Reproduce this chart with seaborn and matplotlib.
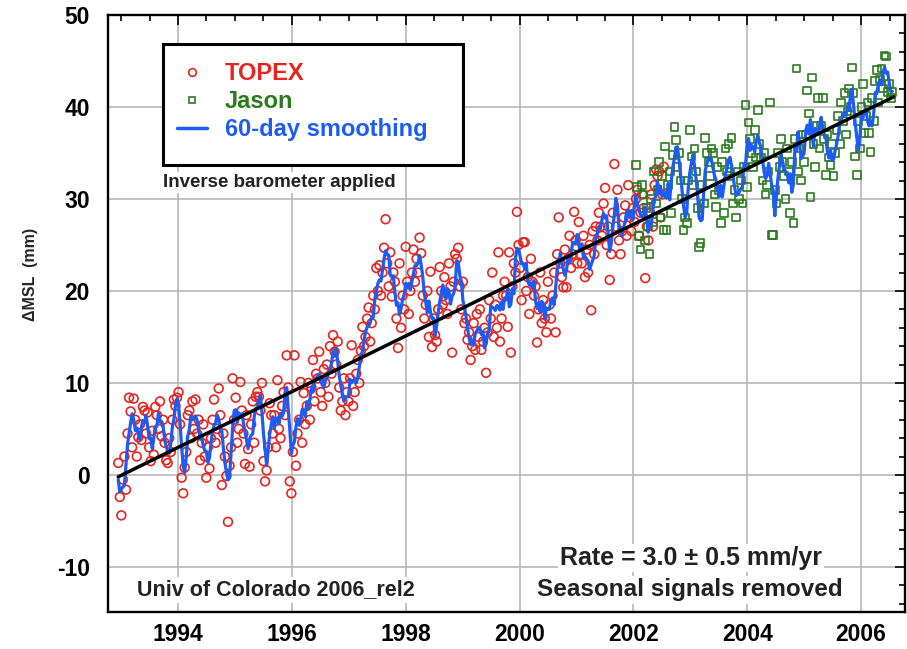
import numpy as np
import pandas as pd
import matplotlib
matplotlib.use("Agg")
import matplotlib.pyplot as plt
import seaborn as sns
from matplotlib.lines import Line2D
from matplotlib.patches import Rectangle
from matplotlib.ticker import MultipleLocator

# ---------------- data ----------------
topex_start = 1992.95          # first TOPEX cycle (year)
jason_start = 2002.04          # first Jason cycle (year)
cycle_days = 9.9156            # repeat cycle of the altimeters

topex_mm = [
    1.3, -2.4, -4.4, -0.5, 2.0, -1.6, 4.5, 8.4, 6.9, 3.0,
    8.3, 6.0, 2.0, 4.1, 5.5, 3.8, 7.4, 7.0, 4.5, 6.8,
    3.0, 1.5, 4.8, 2.2, 7.4, 6.5, 5.0, 8.0, 4.2, 6.0,
    3.5, 1.6, 1.3, 4.0, 2.5, 6.0, 8.2, 7.5, 8.4, 9.0,
    5.5, -0.3, -2.0, 0.8, 2.5, 6.5, 7.0, 4.0, 8.0, 5.0,
    8.2, 4.5, 6.0, 1.6, 3.5, 5.5, 2.0, -0.3, 3.0, 0.7,
    4.0, 6.0, 8.2, 3.5, 5.0, 9.4, 6.5, -1.1, 4.5, 2.0,
    -0.1, -5.1, 1.0, 3.0, 10.5, 6.0, 8.4, 3.5, 5.0, 10.1,
    7.0, 4.5, 1.2, 6.5, 2.8, 0.9, 5.5, 8.0, 3.5, 8.5,
    9.0, 8.5, 7.0, 10.0, 1.5, -0.7, 0.5, 3.0, 7.8, 6.5,
    4.5, 6.5, 3.0, 10.3, 5.0, 4.0, 7.5, 9.0, 6.5, 13.0,
    9.5, -0.7, -2.0, 2.5, 13.0, 1.0, 4.5, 6.0, 10.1, 3.5,
    8.9, 5.5, 7.5, 10.0, 6.0, 9.5, 12.5, 8.0, 11.0, 10.5,
    13.4, 9.0, 7.5, 11.5, 10.0, 12.0, 8.5, 14.0, 11.0, 15.2,
    13.4, 12.0, 14.5, 9.5, 7.0, 8.0, 10.5, 6.5, 9.0, 8.0,
    10.5, 14.1, 7.5, 9.0, 11.0, 12.5, 10.0, 13.5, 16.1, 14.0,
    15.0, 17.0, 18.2, 14.5, 16.5, 19.5, 18.0, 22.5, 20.0, 22.8,
    19.5, 22.0, 24.7, 27.8, 23.0, 20.5, 24.2, 19.4, 22.0, 21.0,
    17.0, 13.8, 23.0, 16.0, 19.5, 18.0, 24.8, 21.0, 17.5, 20.0,
    22.0, 24.5, 21.0, 23.5, 22.0, 25.8, 24.1, 19.5, 17.0, 18.5,
    20.0, 15.0, 22.1, 13.9, 17.0, 15.2, 14.5, 18.0, 22.6, 20.0,
    18.5, 21.5, 19.0, 17.5, 23.0, 20.5, 13.3, 21.0, 24.0, 23.5,
    24.7, 20.5, 18.0, 21.0, 16.5, 17.0, 14.7, 15.5, 12.5, 14.0,
    16.5, 13.6, 17.5, 15.0, 18.0, 13.6, 14.5, 16.0, 11.1, 15.5,
    19.0, 17.0, 22.0, 15.0, 18.5, 16.0, 24.2, 14.5, 17.0, 19.5,
    21.0, 19.5, 16.1, 24.2, 13.3, 20.5, 23.0, 22.0, 28.6, 25.0,
    22.5, 19.0, 25.3, 25.3, 20.0, 21.5, 17.5, 23.5, 21.0, 19.5,
    20.5, 14.4, 18.0, 22.0, 16.5, 19.0, 17.0, 15.5, 21.0, 18.5,
    17.0, 19.5, 22.0, 15.5, 24.0, 28.0, 23.0, 21.5, 20.4, 24.5,
    20.4, 23.5, 26.0, 22.5, 24.0, 28.6, 25.5, 23.0, 27.5, 24.0,
    23.0, 26.0, 21.5, 24.5, 22.0, 25.0, 17.9, 26.5, 24.0, 27.0,
    25.5, 28.5, 27.0, 26.0, 29.5, 31.2, 25.0, 27.0, 21.2, 24.0,
    28.5, 33.8, 27.0, 31.0, 25.5, 24.0, 26.5, 28.0, 29.3, 26.0,
    31.5, 28.0, 26.5, 29.0, 27.5, 30.0, 31.0, 26.0, 28.5, 30.5,
    29.0, 21.4, 27.0, 25.5, 28.5, 30.5, 27.0, 31.5, 33.2, 32.5,
    33.0, 28.0, 30.5, 33.5,
]

jason_mm = [
    33.7, 31.3, 26.0, 24.5, 31.5, 30.5, 25.5, 29.0, 27.0, 24.0,
    30.0, 27.5, 33.0, 29.5, 31.0, 34.0, 28.0, 32.5, 26.6, 35.7,
    26.6, 31.5, 33.0, 28.5, 34.8, 37.8, 36.4, 33.5, 35.0, 32.0,
    30.0, 26.6, 28.0, 27.4, 32.0, 37.5, 34.6, 31.5, 35.5, 33.0,
    29.0, 24.8, 25.2, 31.5, 29.5, 36.6, 35.0, 34.0, 32.5, 35.5,
    35.0, 30.5, 29.1, 33.5, 31.0, 27.4, 34.0, 28.5, 35.5, 33.0,
    36.0, 32.5, 36.6, 29.5, 31.0, 28.0, 33.0, 30.0, 32.0, 29.5,
    33.5, 40.2, 31.3, 38.3, 36.5, 35.0, 33.5, 37.5, 34.5, 39.7,
    36.0, 34.5, 32.0, 35.0, 30.5, 31.5, 33.0, 40.5, 26.1, 26.1,
    31.0, 29.5, 35.0, 33.5, 36.5, 34.0, 32.5, 30.0, 35.5, 33.0,
    28.5, 34.0, 27.4, 36.5, 44.2, 33.0, 35.5, 32.0, 37.0, 34.0,
    37.0, 41.8, 39.3, 30.2, 43.2, 36.0, 33.5, 38.0, 41.0, 35.5,
    38.0, 41.0, 36.5, 32.6, 37.0, 34.5, 33.7, 36.0, 32.5, 35.0,
    37.5, 39.0, 36.0, 40.5, 38.5, 41.5, 37.0, 39.5, 42.0, 40.0,
    44.3, 41.5, 34.6, 32.6, 38.5, 35.5, 40.0, 42.5, 37.2, 39.0,
    40.5, 37.2, 35.1, 41.0, 38.5, 42.8, 44.0, 40.5, 43.0, 44.2,
    42.0, 45.6, 45.5, 41.6, 42.5, 41.0, 41.6,
]

trend_years = [1992.95, 2006.57]   # fitted 3.0 mm/yr trend, end points
trend_mm = [-0.2, 41.1]

x_ticks = [1994, 1996, 1998, 2000, 2002, 2004, 2006]
y_ticks = [-10, 0, 10, 20, 30, 40, 50]
y_tick_labels = ["-10", "0", "10", "20", "30", "40", "50"]

series_labels = ["TOPEX", "Jason", "60-day smoothing"]

# ---------------- frames ----------------
cycle_years = cycle_days / 365.25
topex = pd.DataFrame({"year": topex_start + cycle_years * np.arange(len(topex_mm)),
                      "mm": topex_mm})
jason = pd.DataFrame({"year": jason_start + cycle_years * np.arange(len(jason_mm)),
                      "mm": jason_mm})
smooth = pd.concat([topex[topex["year"] < jason_start], jason]).sort_values("year")
smooth = smooth.reset_index(drop=True)
smooth["mm"] = smooth["mm"].rolling(4, center=True, min_periods=1).mean()

# ---------------- style ----------------
sns.set_theme(style="white")
plt.rcParams["font.family"] = ["Liberation Sans", "DejaVu Sans"]

RED = "#e3261f"
GREEN = "#2b7a1c"
BLUE = "#1c5cf5"

fig = plt.figure(figsize=(9.07, 6.49), dpi=100)
ax = fig.add_axes([108 / 907, 1 - 612 / 649, 797 / 907, 597 / 649])

sns.scatterplot(data=topex, x="year", y="mm", marker="o", s=40,
                facecolor="none", edgecolor=RED, linewidth=1.2, ax=ax, zorder=2)
sns.scatterplot(data=jason, x="year", y="mm", marker="s", s=30,
                facecolor="none", edgecolor=GREEN, linewidth=1.2, ax=ax, zorder=2)
sns.lineplot(data=smooth, x="year", y="mm", sort=False, estimator=None,
             color=BLUE, linewidth=2.3, ax=ax, zorder=3)
sns.lineplot(x=trend_years, y=trend_mm, color="black", linewidth=2.5,
             ax=ax, zorder=4)

ax.set_xlim(1992.77, 2006.77)
ax.set_ylim(-14.9, 50)
ax.set_xticks(x_ticks, labels=[str(v) for v in x_ticks], fontweight="bold")
ax.set_yticks(y_ticks, labels=y_tick_labels, fontweight="bold")
ax.xaxis.set_minor_locator(MultipleLocator(0.5))
ax.yaxis.set_minor_locator(MultipleLocator(2))
ax.tick_params(which="both", direction="in", top=True, right=True,
               colors="black", width=1.2)
ax.tick_params(which="major", length=7, labelsize=16.5)
ax.tick_params(which="minor", length=4)
ax.tick_params(axis="y", pad=13)
ax.tick_params(axis="x", pad=8)
ax.grid(True, which="major", color="#b7b7b7", linewidth=1.2)
ax.set_axisbelow(True)
for sp in ax.spines.values():
    sp.set_color("black")
    sp.set_linewidth(1.7)
ax.set_xlabel("")
ax.set_ylabel("")

fig.text(31 / 907, 1 - 274 / 649, "\u0394MSL  (mm)", rotation=90,
         ha="center", va="center", fontsize=11.5, fontweight="bold")

# legend: white framed box, entries placed inside it
ax.add_patch(Rectangle((0.069, 0.749), 0.376, 0.202, transform=ax.transAxes,
                       facecolor="white", edgecolor="black", linewidth=2.2,
                       zorder=9, clip_on=False))
handles = [
    Line2D([], [], marker="o", linestyle="none", markerfacecolor="none",
           markeredgecolor=RED, markersize=5.5, markeredgewidth=1.2),
    Line2D([], [], marker="s", linestyle="none", markerfacecolor="none",
           markeredgecolor=GREEN, markersize=5, markeredgewidth=1.2),
    Line2D([], [], color=BLUE, linewidth=2.5),
]
leg = ax.legend(handles, series_labels, loc="upper left",
                bbox_to_anchor=(0.087, 0.921),
                frameon=False,
                prop={"family": "Liberation Sans", "weight": "bold", "size": 17},
                labelcolor=[RED, GREEN, BLUE], handlelength=1.25,
                handletextpad=0.75, labelspacing=0.21, borderpad=0,
                borderaxespad=0)
leg.set_zorder(10)

box = dict(facecolor="white", edgecolor="none", pad=1.5)
ax.text(0.069, 0.720, "Inverse barometer applied", transform=ax.transAxes,
        ha="left", va="center", fontsize=13.5, fontweight="bold",
        color="#222222", bbox=box, zorder=6)
ax.text(0.037, 0.037, "Univ of Colorado 2006_rel2", transform=ax.transAxes,
        ha="left", va="center", fontsize=15.5, fontweight="bold",
        color="#222222", bbox=box, zorder=6)
ax.text(0.731, 0.0905, "Rate = 3.0 \u00b1 0.5 mm/yr", transform=ax.transAxes,
        ha="center", va="center", fontsize=18, fontweight="bold",
        color="#222222", bbox=box, zorder=6)
ax.text(0.730, 0.037, "Seasonal signals removed", transform=ax.transAxes,
        ha="center", va="center", fontsize=17.5, fontweight="bold",
        color="#222222", bbox=box, zorder=6)

fig.savefig("out.png", dpi=100)
